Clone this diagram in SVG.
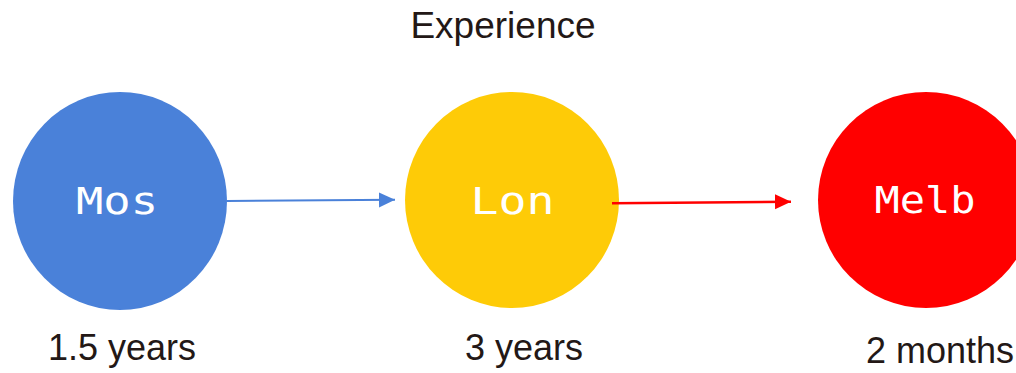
<svg xmlns="http://www.w3.org/2000/svg" width="1016" height="373" viewBox="0 0 1016 373">
  <style>
    .title, .label { font-family: "Liberation Sans", Arial, sans-serif; fill: #231816; }
    .title { font-size: 37px; }
    .label { font-size: 36px; }
    .city { font-family: "DejaVu Sans Mono", monospace; font-size: 38px; fill: #ffffff; text-anchor: middle; }
  </style>
  <defs>
    <marker id="ah-blue" markerUnits="userSpaceOnUse" markerWidth="17" markerHeight="16" refX="16" refY="7.5" orient="auto">
      <path d="M0,0 L16,7.5 L0,15 z" fill="#4a81d9"/>
    </marker>
    <marker id="ah-red" markerUnits="userSpaceOnUse" markerWidth="17" markerHeight="16" refX="16" refY="7.5" orient="auto">
      <path d="M0,0 L16,7.5 L0,15 z" fill="#ff0000"/>
    </marker>
  </defs>
  <rect width="1016" height="373" fill="#ffffff"/>
  <text class="title" x="503" y="38" text-anchor="middle">Experience</text>

  <g id="node-mos">
    <ellipse cx="120" cy="201" rx="107" ry="109" fill="#4a81d9"/>
    <text class="city" x="117" y="214" textLength="82" lengthAdjust="spacingAndGlyphs">Mos</text>
    <text class="label" x="48" y="360">1.5 years</text>
  </g>

  <g id="node-lon">
    <ellipse cx="512" cy="200" rx="107" ry="108" fill="#fecb07"/>
    <text class="city" x="512.5" y="214" textLength="84" lengthAdjust="spacingAndGlyphs">Lon</text>
    <text class="label" x="465" y="360">3 years</text>
  </g>

  <g id="node-melb">
    <ellipse cx="926" cy="200" rx="108" ry="108" fill="#ff0000"/>
    <text class="city" x="925" y="213" textLength="101" lengthAdjust="spacingAndGlyphs">Melb</text>
    <text class="label" x="866" y="363">2 months</text>
  </g>

  <g id="connectors">
    <line x1="227" y1="201" x2="395" y2="199.8" stroke="#4a81d9" stroke-width="2" marker-end="url(#ah-blue)"/>
    <line x1="612" y1="203.3" x2="791" y2="201.7" stroke="#ff0000" stroke-width="2.5" marker-end="url(#ah-red)"/>
  </g>
</svg>
